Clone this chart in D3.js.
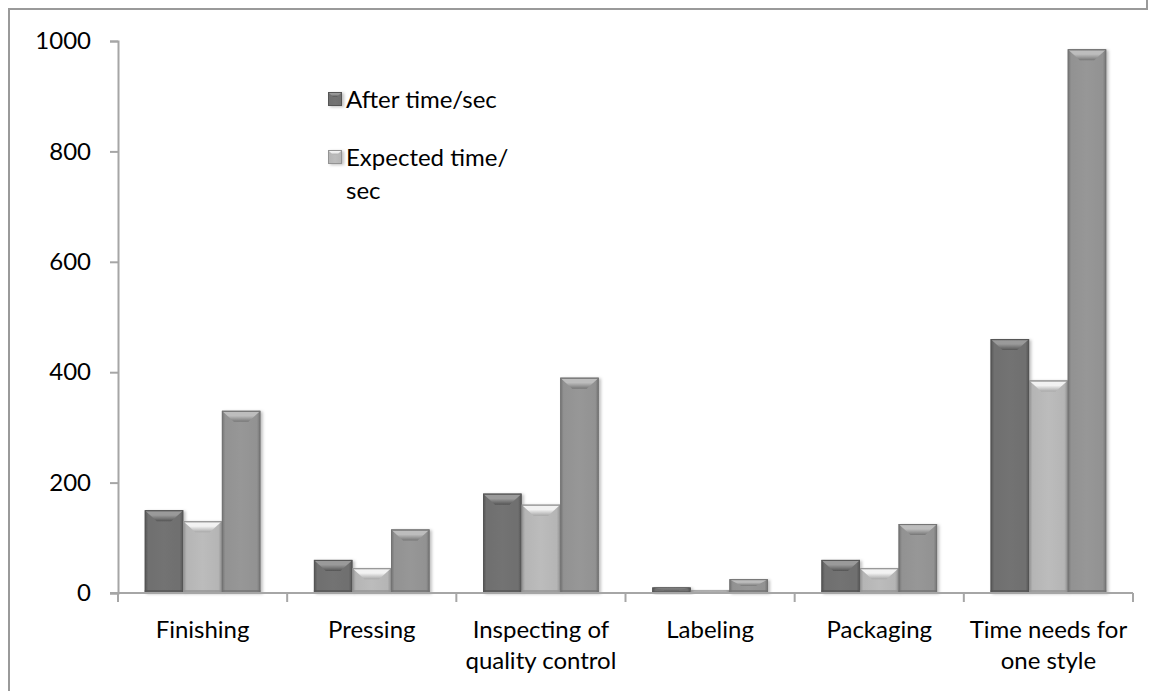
<!DOCTYPE html>
<html>
<head>
<meta charset="utf-8">
<script src="https://cdn.jsdelivr.net/npm/d3@7/dist/d3.min.js"></script>
<style>
  html, body { margin: 0; padding: 0; background: #fff; }
  svg { display: block; font-family: Lato, "Open Sans", sans-serif; }
</style>
</head>
<body>
<svg id="chart" width="1154" height="691"></svg>
<script>
// Process steps along the x axis (line breaks mark two-line labels)
const categories = ["Finishing", "Pressing", "Inspecting of\nquality control", "Labeling", "Packaging", "Time needs for\none style"];
// Seconds per step
const afterTime    = [150, 60, 180, 10, 60, 460];
const expectedTime = [130, 45, 160, 5, 45, 385];
const totalTime    = [330, 115, 390, 25, 125, 985];
const seriesNames  = ["After time/sec", "Expected time/sec", "Total time/sec"];
const legendNames  = ["After time/sec", "Expected time/\nsec"];
const yTicks       = [0, 200, 400, 600, 800, 1000];

const seriesValues = [afterTime, expectedTime, totalTime];

// Shading per series: body, edge, bevel highlight, bevel shadow
const palette = [
  { body: "#6f6f6f", edge: "#545454", hi: "#9a9a9a", lo: "#555555" },
  { body: "#b5b5b5", edge: "#939393", hi: "#f2f2f2", lo: "#a8a8a8" },
  { body: "#929292", edge: "#727272", hi: "#bdbdbd", lo: "#767676" }
];

const svg = d3.select("#chart");
const axisColor = "#a6a6a6";
const frameColor = "#9a9a9a";

// outer frame
svg.append("path")
  .attr("d", "M9,691 L9,9 L1147,9 L1147,0")
  .attr("fill", "none").attr("stroke", frameColor).attr("stroke-width", 2);

const plot = { left: 118, right: 1133, top: 41, bottom: 593 };

const y = d3.scaleLinear().domain([0, 1000]).range([plot.bottom, plot.top]);
const x0 = d3.scaleBand().domain(categories).range([plot.left, plot.right]).padding(0);
const groupW = x0.step() * 0.684;
const x1 = d3.scaleBand().domain(seriesNames)
  .range([(x0.step() - groupW) / 2, (x0.step() + groupW) / 2]).padding(0);

// gradients and shadow
const defs = svg.append("defs");
palette.forEach((p, i) => {
  const gh = defs.append("linearGradient").attr("id", "body" + i)
    .attr("x1", 0).attr("x2", 1).attr("y1", 0).attr("y2", 0);
  gh.append("stop").attr("offset", 0).attr("stop-color", p.edge);
  gh.append("stop").attr("offset", 0.09).attr("stop-color", p.body);
  gh.append("stop").attr("offset", 0.5).attr("stop-color", d3.color(p.body).brighter(0.1));
  gh.append("stop").attr("offset", 0.91).attr("stop-color", p.body);
  gh.append("stop").attr("offset", 1).attr("stop-color", p.edge);
  const gv = defs.append("linearGradient").attr("id", "bevel" + i)
    .attr("x1", 0).attr("x2", 0).attr("y1", 0).attr("y2", 1);
  gv.append("stop").attr("offset", 0).attr("stop-color", p.edge);
  gv.append("stop").attr("offset", 0.15).attr("stop-color", p.hi);
  gv.append("stop").attr("offset", 0.45).attr("stop-color", p.hi);
  gv.append("stop").attr("offset", 1).attr("stop-color", p.lo);
});
const shadow = defs.append("filter").attr("id", "shadow")
  .attr("x", "-20%").attr("y", "-20%").attr("width", "150%").attr("height", "150%");
shadow.append("feDropShadow").attr("dx", 2).attr("dy", 1).attr("stdDeviation", 1.5)
  .attr("flood-color", "#000").attr("flood-opacity", 0.25);

// bars
const rows = [];
categories.forEach((c, ci) => {
  seriesNames.forEach((s, si) => rows.push({ cat: c, series: s, si, value: seriesValues[si][ci] }));
});

const bars = svg.append("g").selectAll("g.bar").data(rows).join("g")
  .attr("class", "bar")
  .attr("filter", "url(#shadow)");

bars.each(function(d) {
  const g = d3.select(this);
  const bx = x0(d.cat) + x1(d.series);
  const bw = x1.bandwidth();
  const by = y(d.value);
  const bh = y(0) - by;
  const p = palette[d.si];
  g.append("rect").attr("x", bx).attr("y", by).attr("width", bw).attr("height", bh)
    .attr("fill", `url(#body${d.si})`);
  const b = Math.min(11, bh * 0.5);
  const s = Math.min(12, bw / 2);
  // top bevel
  g.append("path")
    .attr("d", `M${bx},${by} L${bx + bw},${by} L${bx + bw - s},${by + b} L${bx + s},${by + b} Z`)
    .attr("fill", `url(#bevel${d.si})`);
  // bottom bevel
  const bb = Math.min(3, bh * 0.3);
  g.append("rect").attr("x", bx).attr("y", y(0) - bb).attr("width", bw).attr("height", bb)
    .attr("fill", p.edge).attr("opacity", 0.7);
  // outline
  g.append("rect").attr("x", bx + 0.5).attr("y", by + 0.5).attr("width", bw - 1).attr("height", Math.max(0, bh - 1))
    .attr("fill", "none").attr("stroke", p.edge).attr("stroke-width", 1).attr("opacity", 0.9);
});

// y axis
const yAxis = d3.axisLeft(y).tickValues(yTicks).tickSize(8).tickPadding(19).tickFormat(d3.format("d"));
const gy = svg.append("g").attr("transform", `translate(${plot.left},0)`).call(yAxis);
gy.select(".domain").attr("stroke", axisColor).attr("stroke-width", 2);
gy.selectAll(".tick line").attr("stroke", axisColor).attr("stroke-width", 2);
gy.selectAll(".tick text").attr("font-size", 24).attr("fill", "#000")
  .attr("font-family", "Lato, 'Open Sans', sans-serif");

// x axis baseline and category dividers
const gx = svg.append("g");
gx.append("line").attr("x1", plot.left - 8).attr("x2", plot.right).attr("y1", plot.bottom).attr("y2", plot.bottom)
  .attr("stroke", axisColor).attr("stroke-width", 2);
const dividers = categories.map(c => x0(c)).concat([plot.right]);
gx.selectAll("line.div").data(dividers).join("line").attr("class", "div")
  .attr("x1", d => d).attr("x2", d => d).attr("y1", plot.bottom).attr("y2", plot.bottom + 9)
  .attr("stroke", axisColor).attr("stroke-width", 2);

// category labels
gx.selectAll("text.cat").data(categories).join("text").attr("class", "cat")
  .attr("x", d => x0(d) + x0.bandwidth() / 2)
  .attr("y", 638)
  .attr("text-anchor", "middle").attr("font-size", 24).attr("fill", "#000")
  .each(function(d) {
    d.split("\n").forEach((line, i) => {
      d3.select(this).append("tspan").attr("x", x0(d) + x0.bandwidth() / 2)
        .attr("dy", i === 0 ? 0 : 31).text(line);
    });
  });

// legend
const legend = svg.append("g");
const legendRows = [{ y: 99, lines: legendNames[0].split("\n"), si: 0 },
                    { y: 157, lines: legendNames[1].split("\n"), si: 1 }];
legendRows.forEach(r => {
  const p = palette[r.si];
  const sq = legend.append("g").attr("filter", "url(#shadow)");
  sq.append("rect").attr("x", 328).attr("y", r.y - 7).attr("width", 14).attr("height", 14)
    .attr("fill", `url(#body${r.si})`);
  sq.append("path")
    .attr("d", `M328,${r.y - 7} L342,${r.y - 7} L337,${r.y - 2} L333,${r.y - 2} Z`)
    .attr("fill", `url(#bevel${r.si})`);
  sq.append("rect").attr("x", 328.5).attr("y", r.y - 6.5).attr("width", 13).attr("height", 13)
    .attr("fill", "none").attr("stroke", p.edge);
  const t = legend.append("text").attr("x", 346).attr("y", r.y + 9)
    .attr("font-size", 24).attr("fill", "#000");
  r.lines.forEach((line, i) => {
    t.append("tspan").attr("x", 346).attr("dy", i === 0 ? 0 : 33).text(line);
  });
});
</script>
</body>
</html>
